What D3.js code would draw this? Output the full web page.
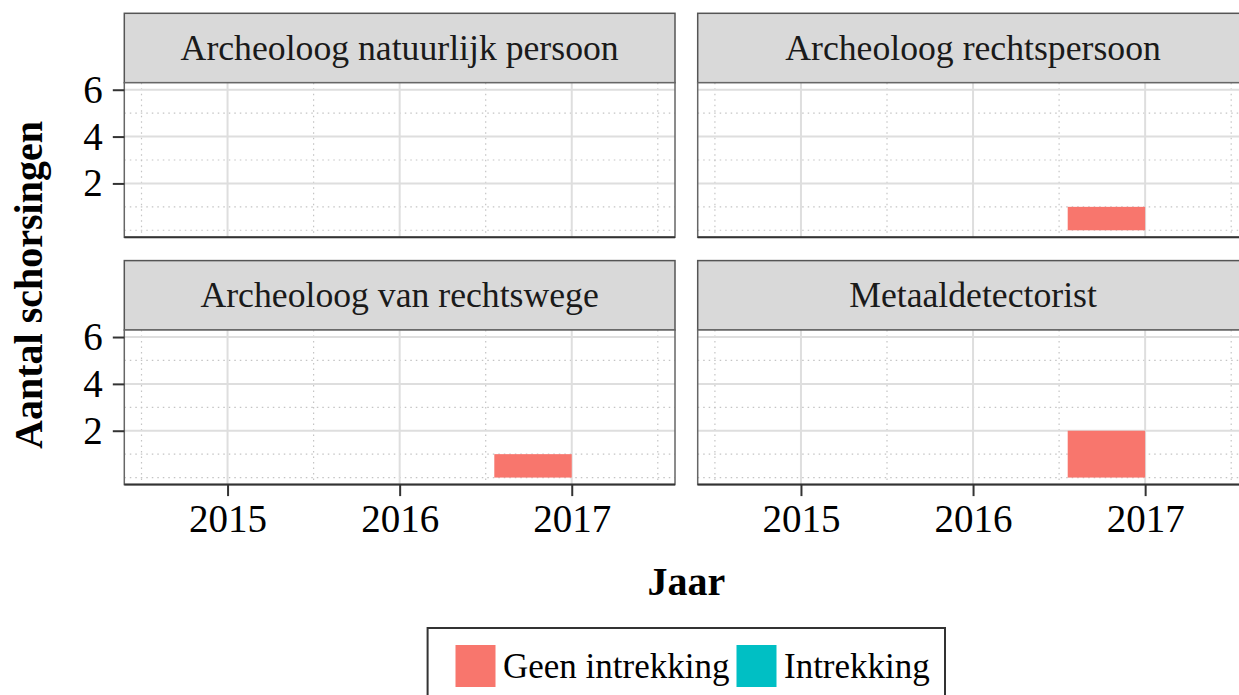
<!DOCTYPE html>
<html>
<head>
<meta charset="utf-8">
<script src="https://cdn.jsdelivr.net/npm/d3@7"></script>
<style>
  body { margin: 0; background: #fff; }
  svg { display: block; overflow: hidden; }
  text { font-family: "Liberation Serif", "Times New Roman", serif; }
</style>
</head>
<body>
<svg id="chart"></svg>
<script>
// Facets (row by row)
const facets = ['Archeoloog natuurlijk persoon', 'Archeoloog rechtspersoon',
                'Archeoloog van rechtswege', 'Metaaldetectorist'];

// Bars: facet, period (years) and count per type
const barFacet = ['Archeoloog rechtspersoon', 'Archeoloog van rechtswege', 'Metaaldetectorist'];
const barStart = [2016.55, 2016.55, 2016.55];
const barEnd = [2017.0, 2017.0, 2017.0];
const geenIntrekking = [1, 1, 2];
const intrekking = [0, 0, 0];

const types = ['Geen intrekking', 'Intrekking'];
const typeColors = ['#F8766D', '#00BFC4'];

// Ticks and grid
const xTicks = [2015, 2016, 2017];
const xMinor = [2014.5, 2015.5, 2016.5, 2017.5];
const yTicks = [2, 4, 6];
const yMinor = [0, 1, 3, 5];

const W = 1239, H = 695;
const marginLeft = 124.3, colGap = 22.7, panelW = 550.7;
const marginTop = 13.3, stripH = 69.4, panelH = 154.6, rowGap = 23.3;

const svg = d3.select('#chart').attr('width', W).attr('height', H);

const x = d3.scaleLinear().domain([2014.4, 2017.6]).range([0, panelW]);
const y = d3.scaleLinear().domain([-0.3, 6.3]).range([panelH, 0]);

// Build stacked rows
const rows = barFacet.map((f, i) => ({ facet: f, start: barStart[i], end: barEnd[i],
  'Geen intrekking': geenIntrekking[i], 'Intrekking': intrekking[i] }));
const stacked = d3.stack().keys(types)(rows);

facets.forEach((name, i) => {
  const col = i % 2, row = Math.floor(i / 2);
  const px = marginLeft + col * (panelW + colGap);
  const sy = marginTop + row * (stripH + panelH + rowGap);
  const py = sy + stripH;

  // strip
  const strip = svg.append('g').attr('transform', `translate(${px},${sy})`);
  strip.append('rect')
    .attr('width', panelW).attr('height', stripH)
    .attr('fill', '#d9d9d9').attr('stroke', '#555').attr('stroke-width', 1.5);
  strip.append('text')
    .attr('x', panelW / 2).attr('y', 46.7)
    .attr('text-anchor', 'middle')
    .attr('font-size', 35.7).attr('fill', '#1a1a1a')
    .text(name);

  const g = svg.append('g').attr('transform', `translate(${px},${py})`);
  g.append('rect').attr('width', panelW).attr('height', panelH).attr('fill', '#fff');

  // minor grid (dotted)
  g.selectAll('.minx').data(xMinor).enter().append('line')
    .attr('x1', d => x(d)).attr('x2', d => x(d)).attr('y1', 0).attr('y2', panelH)
    .attr('stroke', '#c4c4c4').attr('stroke-width', 1.2).attr('stroke-dasharray', '1.5,4');
  g.selectAll('.miny').data(yMinor).enter().append('line')
    .attr('x1', 0).attr('x2', panelW).attr('y1', d => y(d)).attr('y2', d => y(d))
    .attr('stroke', '#c4c4c4').attr('stroke-width', 1.2).attr('stroke-dasharray', '1.5,4');

  // major grid
  g.selectAll('.majx').data(xTicks).enter().append('line')
    .attr('x1', d => x(d)).attr('x2', d => x(d)).attr('y1', 0).attr('y2', panelH)
    .attr('stroke', '#dedede').attr('stroke-width', 2);
  g.selectAll('.majy').data(yTicks).enter().append('line')
    .attr('x1', 0).attr('x2', panelW).attr('y1', d => y(d)).attr('y2', d => y(d))
    .attr('stroke', '#dedede').attr('stroke-width', 2);

  // bars
  stacked.forEach((layer, k) => {
    g.selectAll('.bar' + k)
      .data(layer.filter(d => d.data.facet === name && d[1] > d[0]))
      .enter().append('rect')
      .attr('x', d => x(d.data.start))
      .attr('width', d => x(d.data.end) - x(d.data.start))
      .attr('y', d => y(d[1]))
      .attr('height', d => y(d[0]) - y(d[1]))
      .attr('fill', typeColors[k]);
  });

  // border
  g.append('rect').attr('width', panelW).attr('height', panelH)
    .attr('fill', 'none').attr('stroke', '#666').attr('stroke-width', 1.5);
  g.append('line').attr('x1', 0).attr('x2', panelW).attr('y1', panelH).attr('y2', panelH)
    .attr('stroke', '#333').attr('stroke-width', 2);

  // y axis on left column
  if (col === 0) {
    const ya = g.append('g')
      .call(d3.axisLeft(y).tickValues(yTicks).tickFormat(d3.format('d')).tickSize(11.5).tickPadding(10));
    ya.select('.domain').remove();
    ya.selectAll('line').attr('stroke', '#333').attr('stroke-width', 2);
    ya.selectAll('text').attr('font-size', 39).attr('fill', '#000');
  }
  // x axis on bottom row
  if (row === 1) {
    const xa = g.append('g').attr('transform', `translate(0,${panelH})`)
      .call(d3.axisBottom(x).tickValues(xTicks).tickFormat(d3.format('d')).tickSize(11.5).tickPadding(8));
    xa.select('.domain').remove();
    xa.selectAll('line').attr('stroke', '#333').attr('stroke-width', 2);
    xa.selectAll('text').attr('font-size', 39).attr('fill', '#000');
  }
});

// axis titles
const plotCenter = marginLeft + panelW + colGap / 2;
svg.append('text')
  .attr('x', plotCenter).attr('y', 595)
  .attr('text-anchor', 'middle').attr('font-size', 40).attr('font-weight', 'bold')
  .text('Jaar');
svg.append('text')
  .attr('transform', 'translate(42,285) rotate(-90)')
  .attr('text-anchor', 'middle').attr('font-size', 40).attr('font-weight', 'bold')
  .text('Aantal schorsingen');

// legend
const legend = svg.append('g').attr('transform', 'translate(427.6,628)');
legend.append('rect').attr('width', 517.4).attr('height', 90)
  .attr('fill', '#fff').attr('stroke', '#333').attr('stroke-width', 2);
const keyX = [27.9, 308.9];
types.forEach((t, k) => {
  legend.append('rect')
    .attr('x', keyX[k]).attr('y', 17).attr('width', 40).attr('height', 42)
    .attr('fill', typeColors[k]);
  legend.append('text')
    .attr('x', keyX[k] + 47.5).attr('y', 50)
    .attr('font-size', 35).attr('fill', '#000')
    .text(t);
});
</script>
</body>
</html>
